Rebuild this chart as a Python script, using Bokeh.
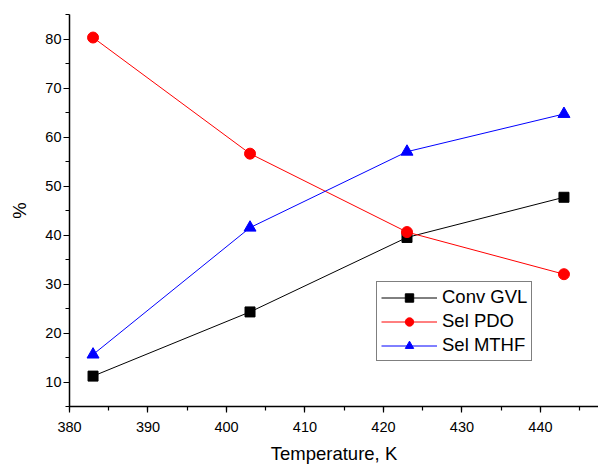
from bokeh.plotting import figure
from bokeh.models import Range1d, Legend, LegendItem, SingleIntervalTicker
from bokeh.embed import file_html
from bokeh.resources import INLINE

temps = [383, 403, 423, 443]
conv_gvl = [11.2, 24.3, 39.5, 47.7]
sel_pdo = [80.3, 56.6, 40.6, 32.0]
sel_mthf = [15.6, 41.5, 57.0, 64.7]

FONT = "Liberation Sans"

p = figure(width=598, height=466, output_backend="svg", toolbar_location=None,
           x_range=Range1d(380, 447.4), y_range=Range1d(5, 85),
           min_border_left=69, min_border_right=0, min_border_top=14, min_border_bottom=60)
p.outline_line_color = None
p.outline_line_alpha = 0
p.xgrid.visible = False
p.ygrid.visible = False
p.background_fill_color = "white"
p.border_fill_color = "white"

p.xaxis.ticker = SingleIntervalTicker(interval=10, num_minor_ticks=2)
p.yaxis.ticker = SingleIntervalTicker(interval=10, num_minor_ticks=2)

for ax in (p.xaxis[0], p.yaxis[0]):
    ax.axis_line_width = 1.5
    ax.axis_line_color = "black"
    ax.major_tick_line_color = "black"
    ax.minor_tick_line_color = "black"
    ax.major_tick_line_width = 1.2
    ax.minor_tick_line_width = 1.2
    ax.major_tick_in = 0
    ax.major_tick_out = 6
    ax.minor_tick_in = 0
    ax.minor_tick_out = 4
    ax.major_label_text_font = FONT
    ax.major_label_text_font_size = "14.5px"
    ax.major_label_text_color = "black"
    ax.axis_label_text_font = FONT
    ax.axis_label_text_font_size = "18.5px"
    ax.axis_label_text_font_style = "normal"
    ax.axis_label_text_color = "black"

p.xaxis.axis_label = "Temperature, K"
p.yaxis.axis_label = "%"
p.xaxis.major_label_standoff = 9
p.xaxis.axis_label_standoff = 8
p.yaxis.major_label_standoff = 2
p.yaxis.axis_label_standoff = 12

l1 = p.line(temps, conv_gvl, line_color="black", line_width=1)
m1 = p.scatter(temps, conv_gvl, marker="square", size=10, fill_color="black", line_color="black")
l2 = p.line(temps, sel_pdo, line_color="#ff0000", line_width=1)
m2 = p.scatter(temps, sel_pdo, marker="circle", size=11, fill_color="#ff0000", line_color="#ff0000")
l3 = p.line(temps, sel_mthf, line_color="#0000ff", line_width=1)
m3 = p.scatter(temps, sel_mthf, marker="triangle", size=12, fill_color="#0000ff", line_color="#0000ff")

legend = Legend(items=[
    LegendItem(label="Conv GVL", renderers=[l1, m1]),
    LegendItem(label="Sel PDO", renderers=[l2, m2]),
    LegendItem(label="Sel MTHF", renderers=[l3, m3]),
], location=(307, 45))
legend.label_text_font = FONT
legend.label_text_font_size = "18.5px"
legend.label_text_color = "black"
legend.padding = 4
legend.spacing = 2
legend.label_height = 21
legend.glyph_height = 21
legend.glyph_width = 56
legend.label_standoff = 5
legend.border_line_color = "black"
legend.border_line_width = 1
legend.background_fill_alpha = 1
legend.margin = 0
p.add_layout(legend, "center")

open("out.html", "w").write(file_html(p, INLINE))
